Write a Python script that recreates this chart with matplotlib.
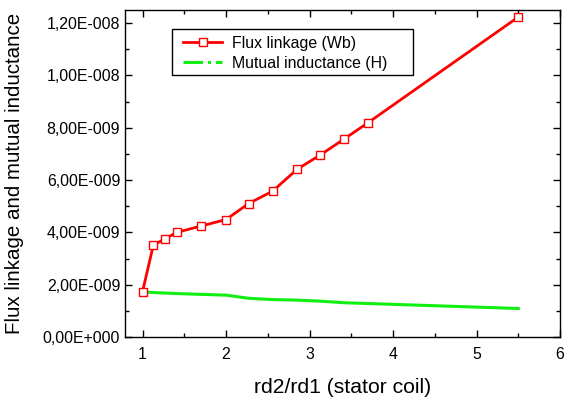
import matplotlib
matplotlib.use("Agg")
import matplotlib.pyplot as plt
from matplotlib.lines import Line2D
from matplotlib.patches import Rectangle
from matplotlib.ticker import MultipleLocator, FixedLocator, FixedFormatter

plt.rcParams['font.family'] = ['Liberation Sans', 'DejaVu Sans']

ratio = [1.0, 1.13, 1.27, 1.41, 1.70, 2.0, 2.27, 2.56, 2.85, 3.13, 3.415, 3.70, 5.5]
flux = [1.735e-9, 3.52e-9, 3.75e-9, 4.0e-9, 4.24e-9, 4.49e-9, 5.10e-9, 5.58e-9,
        6.41e-9, 6.96e-9, 7.57e-9, 8.19e-9, 12.23e-9]
mutual = [1.73e-9, 1.70e-9, 1.68e-9, 1.66e-9, 1.63e-9, 1.60e-9, 1.48e-9, 1.43e-9,
          1.41e-9, 1.37e-9, 1.31e-9, 1.28e-9, 1.09e-9]

ytick_vals = [0, 2e-9, 4e-9, 6e-9, 8e-9, 1.0e-8, 1.2e-8]
ytick_labels = ["0,00E+000", "2,00E-009", "4,00E-009", "6,00E-009",
                "8,00E-009", "1,00E-008", "1,20E-008"]
xtick_vals = [1, 2, 3, 4, 5, 6]

W, H = 564, 397
fig = plt.figure(figsize=(W/100, H/100), dpi=100)
ax = fig.add_axes([125/W, 1 - 337/H, (560-125)/W, (337-10)/H])

red = '#ff0000'
green = '#11ee11'
ax.plot(ratio, mutual, color=green, lw=2.2, zorder=2)
ax.plot(ratio, flux, color=red, lw=2.0, marker='s', ms=6, mfc='white',
        mec=red, mew=1.0, zorder=3)

ax.set_xlim(0.79, 6.0)
ax.set_ylim(0, 1.25e-8)
ax.xaxis.set_major_locator(FixedLocator(xtick_vals))
ax.xaxis.set_minor_locator(MultipleLocator(0.5))
ax.yaxis.set_major_locator(FixedLocator(ytick_vals))
ax.yaxis.set_major_formatter(FixedFormatter(ytick_labels))
ax.yaxis.set_minor_locator(MultipleLocator(1e-9))
ax.tick_params(which='both', direction='in', top=True, right=True,
               labelsize=11.4, width=1.0)
ax.tick_params(which='major', length=5)
ax.tick_params(which='minor', length=3)
ax.tick_params(axis='x', pad=7)
for s in ax.spines.values():
    s.set_linewidth(1.0)

ax.set_xlabel("rd2/rd1 (stator coil)", fontsize=15.2, labelpad=12)
ax.set_ylabel("Flux linkage and mutual inductance", fontsize=14.8)
ax.yaxis.set_label_coords(-0.232, 0.5)

handles = [
    Line2D([], [], color=red, lw=2.0, marker='s', ms=6, mfc='white', mec=red, mew=1.0),
    Line2D([], [], color=green, lw=2.2, ls='-.'),
]
ax_w, ax_h = 560 - 125, 337 - 10
leg = ax.legend(handles, ["Flux linkage (Wb)", "Mutual inductance (H)"],
                loc='upper left', bbox_to_anchor=((178-125)/ax_w, 1 - (31-10)/ax_h),
                fontsize=11.4, frameon=False, borderpad=0.3,
                labelspacing=0.32, handlelength=2.5, handletextpad=0.6,
                borderaxespad=0, numpoints=1)
# legend box
ax.add_patch(Rectangle(((172-125)/ax_w, 1 - (75-10)/ax_h), (413-172)/ax_w, (75-29)/ax_h,
                       transform=ax.transAxes, fill=False, ec='black', lw=1.0, zorder=4))

fig.savefig("out.png", dpi=100)
